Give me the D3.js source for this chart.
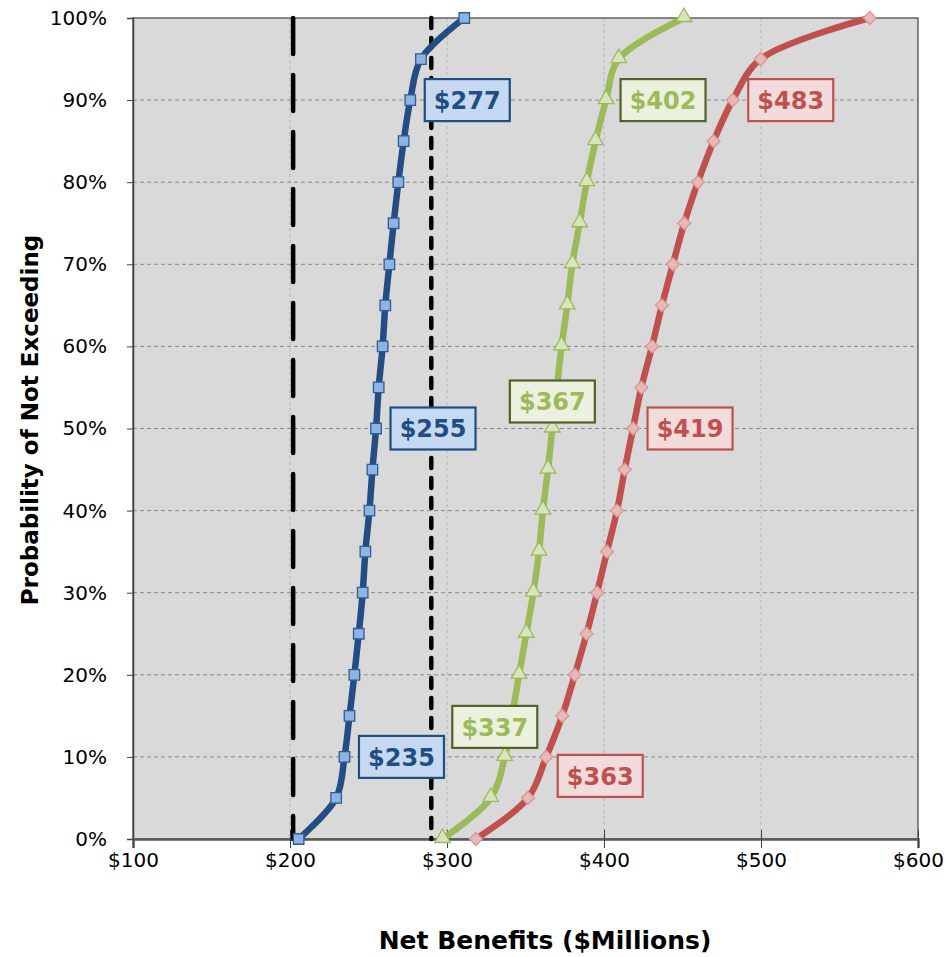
<!DOCTYPE html>
<html>
<head>
<meta charset="utf-8">
<script src="https://cdn.jsdelivr.net/npm/d3@7"></script>
<style>
  html, body { margin: 0; padding: 0; background: #ffffff; }
  svg { display: block; font-family: "DejaVu Sans", Verdana, sans-serif; }
</style>
</head>
<body>
<svg id="chart" width="945" height="957"></svg>
<script>
// ---------------- DATA ----------------
const probabilities = [0, 5, 10, 15, 20, 25, 30, 35, 40, 45, 50, 55, 60, 65, 70, 75, 80, 85, 90, 95, 100];
const seriesBlue  = [205.5, 229.4, 234.7, 237.9, 241.0, 243.8, 246.3, 248.0, 250.6, 252.5, 254.8, 256.5, 259.0, 260.7, 263.3, 266.0, 269.0, 272.4, 276.6, 283.4, 311.0];
const seriesGreen = [297.1, 327.9, 336.8, 341.5, 345.9, 350.5, 355.0, 358.6, 361.1, 364.3, 367.1, 370.0, 373.0, 376.6, 379.8, 384.5, 389.0, 394.6, 401.3, 409.4, 450.9];
const seriesRed   = [318.4, 351.6, 363.2, 373.4, 381.4, 388.9, 395.6, 401.9, 408.3, 413.2, 418.5, 423.8, 430.6, 436.9, 443.9, 451.1, 459.8, 469.8, 482.0, 499.8, 569.3];

const labelProbabilities = [10, 50, 90];
const labelsBlue  = [235, 255, 277];
const labelsGreen = [337, 367, 402];
const labelsRed   = [363, 419, 483];

const referenceLines = [202, 290];

const xTicks = [100, 200, 300, 400, 500, 600];
const yTicks = [0, 10, 20, 30, 40, 50, 60, 70, 80, 90, 100];

const xTitle = "Net Benefits ($Millions)";
const yTitle = "Probability of Not Exceeding";

// ---------------- STYLE / LAYOUT ----------------
const margin = { left: 133, top: 18, right: 27, bottom: 118 };
const W = 945, H = 957;
const iw = W - margin.left - margin.right;   // 785
const ih = H - margin.top - margin.bottom;   // 821

const styles = [
  { values: seriesBlue, labels: labelsBlue, line: "#244d83", mFill: "#8db4e2", mStroke: "#2e5c96", marker: "square",
    boxFill: "#c6d9f1", boxStroke: "#1f4e84", text: "#1f4e84",
    offsets: [[57, 0], [57, 0], [57, 0]] },
  { values: seriesGreen, labels: labelsGreen, line: "#9bbb59", mFill: "#d7e4bd", mStroke: "#9bbb59", marker: "triangle",
    boxFill: "#ebf1de", boxStroke: "#4f6228", text: "#9bbb59",
    offsets: [[-10, -30], [0, -27], [57, 0]] },
  { values: seriesRed, labels: labelsRed, line: "#c0504d", mFill: "#e6b9b8", mStroke: "#d99694", marker: "diamond",
    boxFill: "#f2dcdb", boxStroke: "#c0504d", text: "#c0504d",
    offsets: [[54, 19], [57, 0], [58, 0]] }
];

// ---------------- CHART ----------------
const svg = d3.select("#chart");
const g = svg.append("g").attr("transform", `translate(${margin.left},${margin.top})`);

const x = d3.scaleLinear().domain([100, 600]).range([0, iw]);
const y = d3.scaleLinear().domain([0, 100]).range([ih, 0]);

// plot background
g.append("rect").attr("x", 0).attr("y", 0).attr("width", iw).attr("height", ih)
  .attr("fill", "#d9d9d9");

// vertical grid
g.append("g").selectAll("line").data(xTicks.slice(1, -1)).join("line")
  .attr("x1", d => x(d)).attr("x2", d => x(d)).attr("y1", 0).attr("y2", ih)
  .attr("stroke", "#b4b4b4").attr("stroke-width", 1).attr("stroke-dasharray", "3,3");

// horizontal grid
g.append("g").selectAll("line").data(yTicks.slice(1, -1)).join("line")
  .attr("x1", 0).attr("x2", iw).attr("y1", d => y(d)).attr("y2", d => y(d))
  .attr("stroke", "#8a8a8a").attr("stroke-width", 1).attr("stroke-dasharray", "4,3");

// border
g.append("rect").attr("x", 0).attr("y", 0).attr("width", iw).attr("height", ih)
  .attr("fill", "none").attr("stroke", "#404040").attr("stroke-width", 1.2);

// Y axis
const yAxis = g.append("g").call(
  d3.axisLeft(y).tickValues(yTicks).tickFormat(d => d + "%").tickSize(6).tickPadding(20)
);
yAxis.select(".domain").attr("stroke", "#404040").attr("stroke-width", 1.5);
yAxis.selectAll(".tick line").attr("stroke", "#404040");
yAxis.selectAll("text").attr("font-size", 20).attr("fill", "#000")
  .attr("font-family", "DejaVu Sans, Verdana, sans-serif");

// X axis
const xAxis = g.append("g").attr("transform", `translate(0,${ih})`).call(
  d3.axisBottom(x).tickValues(xTicks).tickFormat(d => "$" + d).tickSize(9).tickPadding(5)
);
xAxis.select(".domain").attr("stroke", "#595959").attr("stroke-width", 2.5);
xAxis.selectAll(".tick line").attr("stroke", "#404040").attr("y1", -9);
xAxis.selectAll("text").attr("font-size", 20).attr("fill", "#000")
  .attr("font-family", "DejaVu Sans, Verdana, sans-serif");

// reference lines
const refStyles = [
  { dash: "36,21" },
  { dash: "10,10" }
];
g.append("g").selectAll("line").data(referenceLines).join("line")
  .attr("x1", d => x(d)).attr("x2", d => x(d)).attr("y1", 0).attr("y2", ih)
  .attr("stroke", "#000").attr("stroke-width", 4.5).attr("stroke-linecap", "round")
  .attr("stroke-dasharray", (d, i) => refStyles[i].dash);

// series lines
const lineGen = d3.line()
  .x(d => x(d[0])).y(d => y(d[1]))
  .curve(d3.curveCatmullRom.alpha(0.5));

styles.forEach(s => {
  const pts = s.values.map((v, i) => [v, probabilities[i]]);
  g.append("path").datum(pts)
    .attr("d", lineGen)
    .attr("fill", "none").attr("stroke", s.line).attr("stroke-width", 6.5)
    .attr("stroke-linejoin", "round").attr("stroke-linecap", "round");
});

// markers
const symbolMap = {
  square: d3.symbol().type(d3.symbolSquare).size(110),
  triangle: d3.symbol().type(d3.symbolTriangle).size(105),
  diamond: d3.symbol().type(d3.symbolSquare).size(85)
};
styles.forEach(s => {
  const pts = s.values.map((v, i) => [v, probabilities[i]]);
  g.append("g").selectAll("path").data(pts).join("path")
    .attr("d", symbolMap[s.marker]())
    .attr("transform", d => {
      const base = `translate(${x(d[0])},${y(d[1])})`;
      if (s.marker === "diamond") return base + " rotate(45)";
      if (s.marker === "triangle") return base + " translate(0,-1)";
      return base;
    })
    .attr("fill", s.mFill).attr("stroke", s.mStroke).attr("stroke-width", 1.3);
});

// data labels
const boxW = 85, boxH = 42;
styles.forEach(s => {
  s.labels.forEach((val, i) => {
    const p = labelProbabilities[i];
    const idx = probabilities.indexOf(p);
    const cx = x(s.values[idx]) + s.offsets[i][0];
    const cy = y(p) + s.offsets[i][1];
    const lg = g.append("g").attr("transform", `translate(${cx},${cy})`);
    lg.append("rect")
      .attr("x", -boxW / 2).attr("y", -boxH / 2).attr("width", boxW).attr("height", boxH)
      .attr("fill", s.boxFill).attr("stroke", s.boxStroke).attr("stroke-width", 2.2);
    lg.append("text")
      .attr("text-anchor", "middle").attr("dy", "0.36em")
      .attr("font-size", 24).attr("font-weight", "bold").attr("fill", s.text)
      .text("$" + val);
  });
});

// axis titles
svg.append("text")
  .attr("x", 545).attr("y", 940)
  .attr("text-anchor", "middle").attr("dy", "0.35em")
  .attr("font-size", 25).attr("font-weight", "bold").attr("fill", "#000")
  .text(xTitle);

svg.append("text")
  .attr("transform", "translate(30,420) rotate(-90)")
  .attr("text-anchor", "middle").attr("dy", "0.35em")
  .attr("font-size", 23).attr("font-weight", "bold").attr("fill", "#000")
  .text(yTitle);
</script>
</body>
</html>
